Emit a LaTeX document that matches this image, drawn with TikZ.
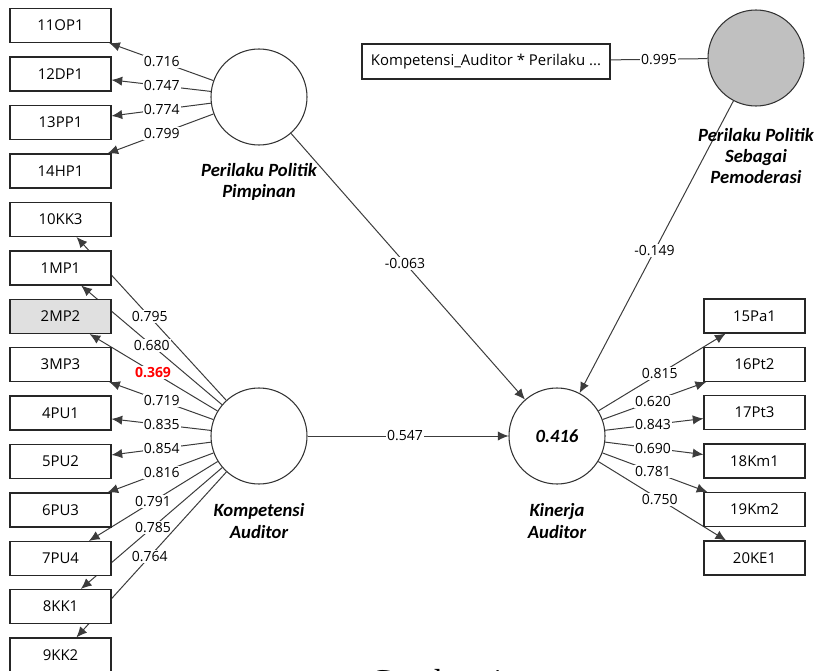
\documentclass[tikz,border=0pt]{standalone}
\usepackage{fontspec}
\setmainfont{Open Sans}
\newfontfamily\lvfont{Carlito}
\newfontfamily\capfont{Liberation Serif}
\usetikzlibrary{arrows.meta,calc}
\pgfdeclarelayer{bg}
\pgfsetlayers{bg,main}
\definecolor{modfill}{RGB}{192,192,192}
\definecolor{selfill}{RGB}{224,224,224}
\definecolor{edge}{RGB}{60,60,60}

\tikzset{
  ind/.style={draw=black!85, line width=0.8pt, fill=white, minimum width=75.75pt,
    minimum height=25.5pt, inner sep=0pt, font=\fontsize{11.2}{13}\selectfont},
  lv/.style={circle, draw=black!80, line width=0.8pt, fill=white, minimum size=72pt, inner sep=0pt},
  lvname/.style={font=\lvfont\bfseries\itshape\fontsize{14}{16}\selectfont, align=center, inner sep=0pt},
  wt/.style={fill=white, inner sep=1pt, font=\fontsize{10.5}{12}\selectfont},
  link/.style={draw=edge, line width=0.75pt, -{Latex[length=8pt,width=7pt]}},
  plain/.style={draw=edge, line width=0.75pt},
}

\begin{document}
\begin{tikzpicture}[x=0.75pt, y=-0.75pt]
\useasboundingbox (0,0) rectangle (822,671);

% latent variables
\node[lv] (pp) at (259,97) {};
\node[lv] (ka) at (259,436) {};
\node[lv] (kin) at (557,436) {\lvfont\bfseries\itshape\fontsize{14}{16}\selectfont 0.416};
\node[lv, fill=modfill] (mod) at (756,58) {};

\node[lvname] (ppname) at (259,182) {Perilaku Politik\\Pimpinan};
\node[lvname] (kaname) at (259,521) {Kompetensi\\Auditor};
\node[lvname] (kinname) at (557,521) {Kinerja\\Auditor};
\node[lvname] (modname) at (756,156) {Perilaku Politik\\Sebagai\\Pemoderasi};

% indicators of Perilaku Politik Pimpinan
\node[ind] (o11) at (60.5,25.5) {11OP1};
\node[ind] (d12) at (60.5,74) {12DP1};
\node[ind] (p13) at (60.5,122.5) {13PP1};
\node[ind] (h14) at (60.5,171) {14HP1};

% indicators of Kompetensi Auditor
\node[ind] (k10) at (60.5,219.5) {10KK3};
\node[ind] (m1) at (60.5,268) {1MP1};
\node[ind, fill=selfill] (m2) at (60.5,316.5) {2MP2};
\node[ind] (m3) at (60.5,364.5) {3MP3};
\node[ind] (u1) at (60.5,413) {4PU1};
\node[ind] (u2) at (60.5,461.5) {5PU2};
\node[ind] (u3) at (60.5,510) {6PU3};
\node[ind] (u4) at (60.5,558.5) {7PU4};
\node[ind] (k1) at (60.5,606.5) {8KK1};
\node[ind] (k2) at (60.5,655) {9KK2};

% indicators of Kinerja Auditor
\node[ind] (pa1) at (754.5,316) {15Pa1};
\node[ind] (pt2) at (754.5,364.5) {16Pt2};
\node[ind] (pt3) at (754.5,412.5) {17Pt3};
\node[ind] (km1) at (754.5,461) {18Km1};
\node[ind] (km2) at (754.5,509.5) {19Km2};
\node[ind] (ke1) at (754.5,558) {20KE1};

% interaction indicator
\node[ind, minimum width=186pt, minimum height=26.25pt] (ix) at (486,61.5) {Kompetensi\_Auditor * Perilaku ...};

\begin{pgfonlayer}{bg}
  % outer loadings
  \foreach \b/\v/\t in {o11/0.716/0.49, d12/0.747/0.49, p13/0.774/0.49, h14/0.799/0.49}{
    \draw[link] (pp) -- (\b);
    \node[wt] at ($(pp.center)!\t!(\b.center)$) {\v};
  }
  \foreach \b/\v/\t in {k10/0.795/0.55, m1/0.680/0.54, m3/0.719/0.49, u1/0.835/0.49,
      u2/0.854/0.49, u3/0.816/0.49, u4/0.791/0.534, k1/0.785/0.534, k2/0.764/0.55}{
    \draw[link] (ka) -- (\b);
    \node[wt] at ($(ka.center)!\t!(\b.center)$) {\v};
  }
  \draw[link] (ka) -- (m2);
  \node[wt, text=red, font=\bfseries\fontsize{10.5}{12}\selectfont] at ($(ka.center)!0.534!(m2.center)$) {0.369};
  \foreach \b/\v/\t in {pa1/0.815/0.52, pt2/0.620/0.486, pt3/0.843/0.486,
      km1/0.690/0.486, km2/0.781/0.486, ke1/0.750/0.52}{
    \draw[link] (kin) -- (\b);
    \node[wt] at ($(kin.center)!\t!(\b.center)$) {\v};
  }
  \draw[plain] (ix) -- (mod);
  \node[wt] at ($(ix.east)!0.5!(mod.west)$) {0.995};

  % path coefficients
  \draw[link] (pp) -- (kin);
  \node[wt] at ($(pp.center)!0.49!(kin.center)$) {-0.063};
  \draw[link] (mod) -- (kin);
  \node[wt] at ($(mod.center)!0.51!(kin.center)$) {-0.149};
  \draw[link] (ka) -- (kin);
  \node[wt] at ($(ka.center)!0.49!(kin.center)$) {0.547};
\end{pgfonlayer}

% figure caption, running past the lower page edge
\node[font=\capfont\fontsize{25}{30}\selectfont, anchor=base] (cap) at (436,692) {Gambar 4};
\end{tikzpicture}
\end{document}
